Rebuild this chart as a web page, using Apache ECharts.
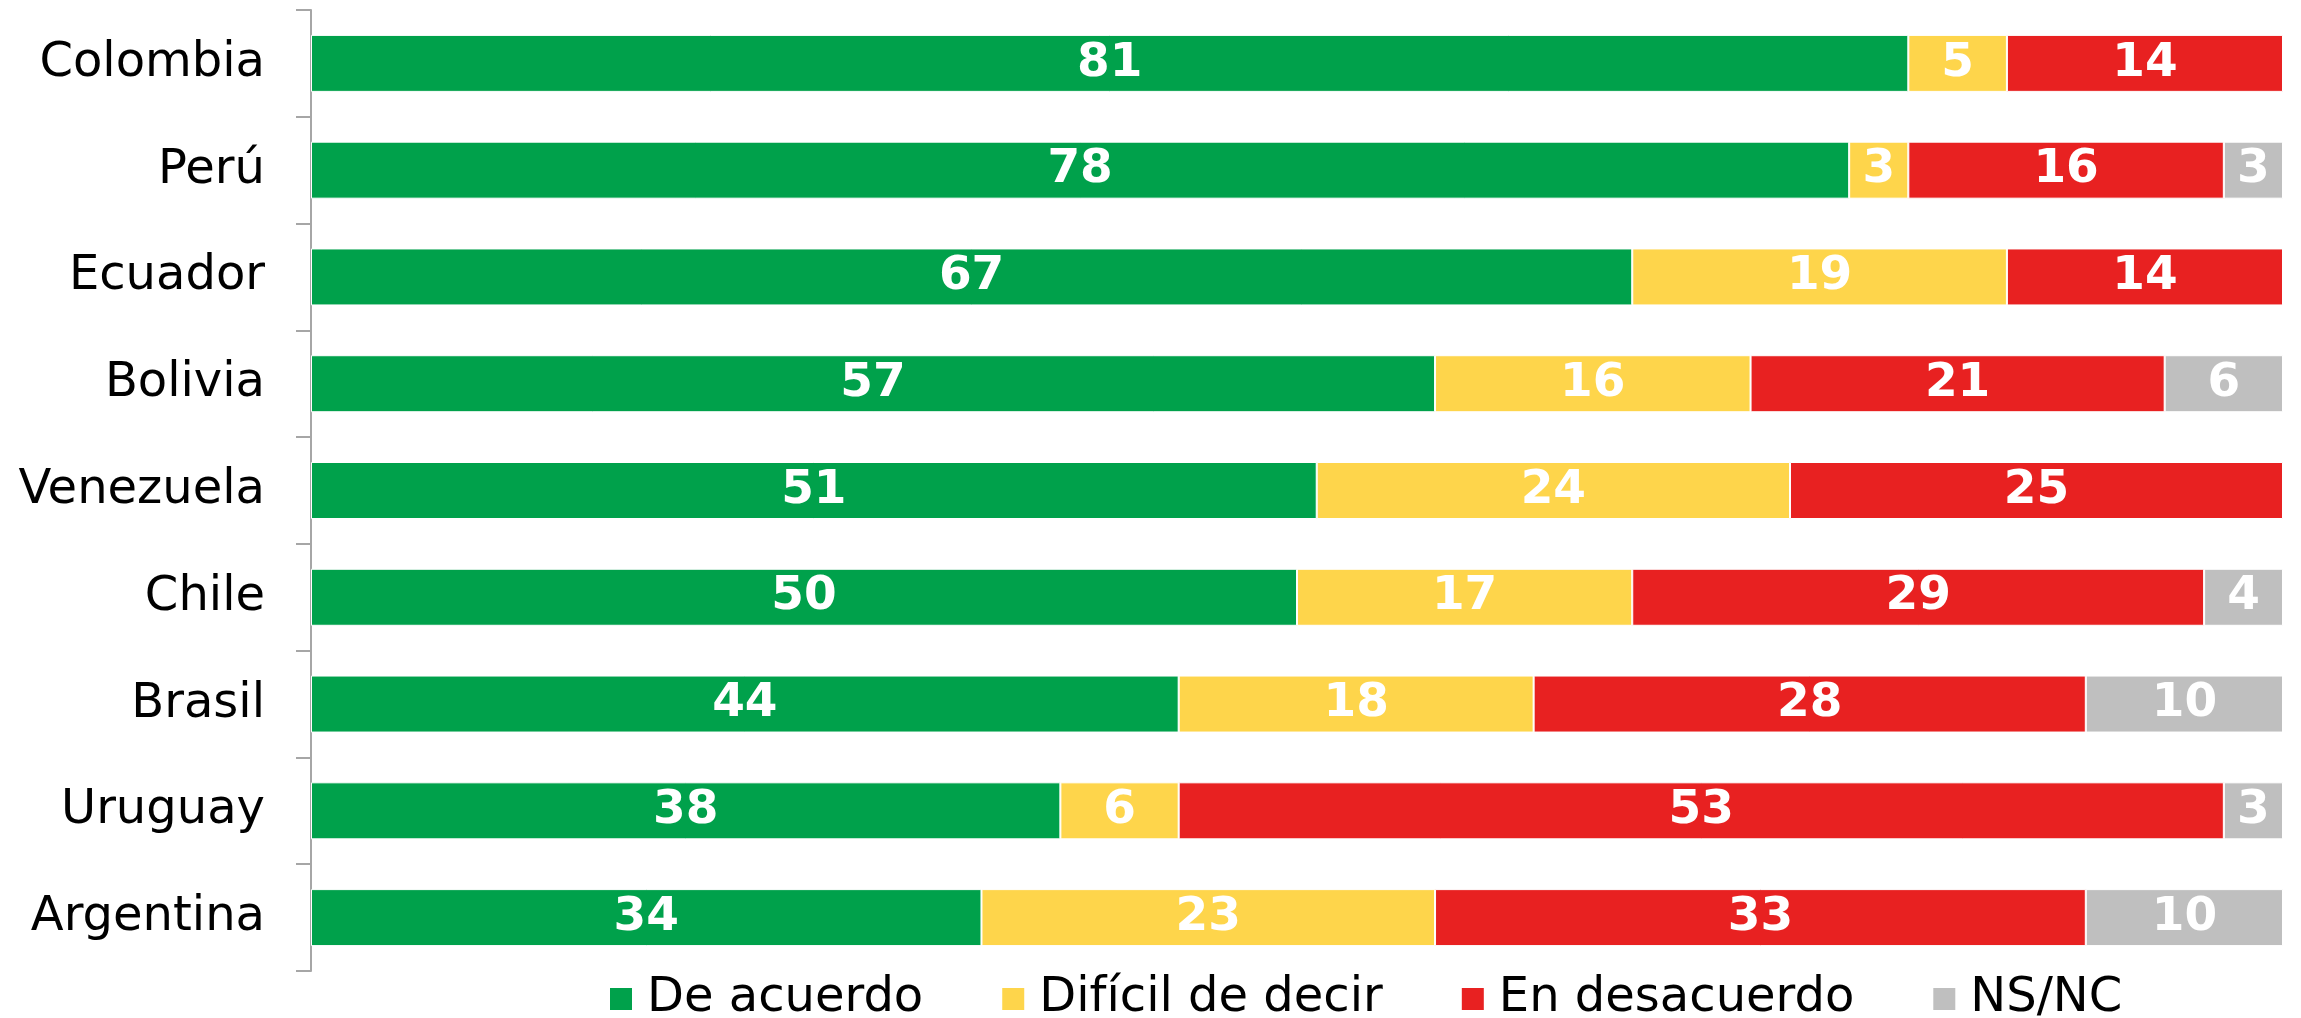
<!DOCTYPE html>
<html>
<head>
<meta charset="utf-8">
<script src="https://cdn.jsdelivr.net/npm/echarts@6/dist/echarts.min.js"></script>
<style>
  html, body { margin: 0; padding: 0; background: #fff; }
  #chart { width: 2301px; height: 1018px; }
</style>
</head>
<body>
<div id="chart"></div>
<script>
// Países (de arriba hacia abajo)
const countries = ['Colombia', 'Perú', 'Ecuador', 'Bolivia', 'Venezuela', 'Chile', 'Brasil', 'Uruguay', 'Argentina'];

// Porcentajes por respuesta
const deAcuerdo     = [81, 78, 67, 57, 51, 50, 44, 38, 34];
const dificilDecir  = [5, 3, 19, 16, 24, 17, 18, 6, 23];
const enDesacuerdo  = [14, 16, 14, 21, 25, 29, 28, 53, 33];
const nsnc          = [null, 3, null, 6, null, 4, 10, 3, 10];

const seriesNames  = ['De acuerdo', 'Difícil de decir', 'En desacuerdo', 'NS/NC'];
const seriesValues = [deAcuerdo, dificilDecir, enDesacuerdo, nsnc];
const seriesColors = ['#00A14B', '#FED54B', '#E82121', '#BFBFBF'];

const FONT = "'DejaVu Sans', sans-serif";

const chart = echarts.init(document.getElementById('chart'), null, { renderer: 'canvas' });

chart.setOption({
  animation: false,
  backgroundColor: '#ffffff',
  grid: { left: 311, right: 18, top: 10, bottom: 47, containLabel: false },
  xAxis: {
    type: 'value', min: 0, max: 100,
    show: false
  },
  yAxis: {
    type: 'category',
    data: countries,
    inverse: true,
    axisLine: { show: true, lineStyle: { color: '#A6A6A6', width: 2 } },
    axisTick: { show: true, length: 15, lineStyle: { color: '#A6A6A6', width: 2 } },
    axisLabel: { color: '#000', fontSize: 48, fontFamily: FONT, margin: 46 },
    splitLine: { show: false }
  },
  legend: {
    data: seriesNames,
    left: 603,
    top: 970,
    itemWidth: 24,
    itemHeight: 24,
    itemGap: 77,
    icon: 'rect',
    textStyle: { color: '#000', fontSize: 48, fontFamily: FONT, padding: [0, 0, 0, 9] }
  },
  series: seriesNames.map((name, i) => ({
    name: name,
    type: 'bar',
    stack: 'total',
    barWidth: 57,
    data: seriesValues[i],
    itemStyle: { color: seriesColors[i], borderColor: '#ffffff', borderWidth: 1 },
    label: {
      show: true,
      position: 'inside',
      color: '#ffffff',
      fontSize: 47,
      fontWeight: 'bold',
      fontFamily: FONT
    }
  }))
});
</script>
</body>
</html>
